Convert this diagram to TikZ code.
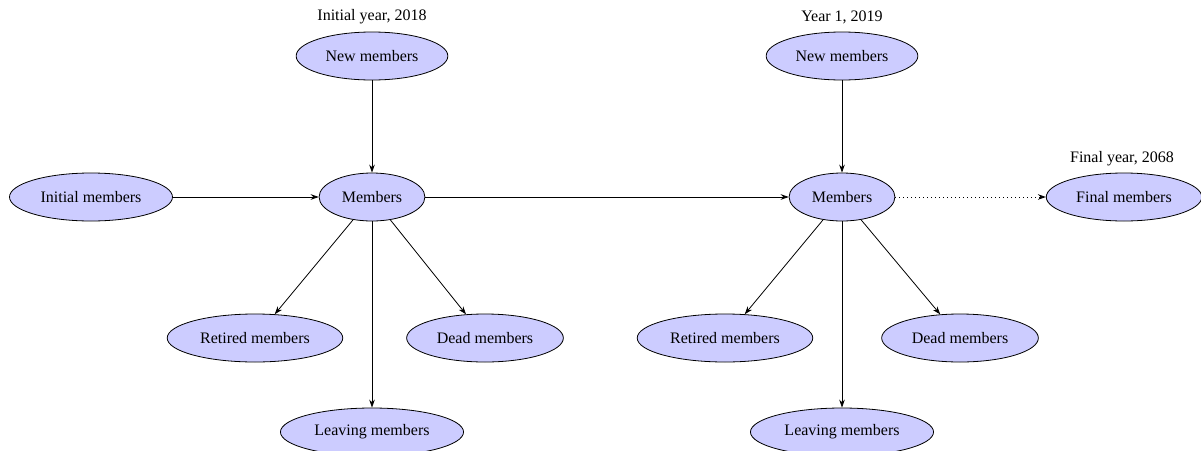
\documentclass[tikz,border=0pt]{standalone}
\usepackage{fontspec}
\setmainfont{Liberation Serif}
\usetikzlibrary{shapes.geometric,arrows.meta}
\begin{document}
\begin{tikzpicture}[x=0.625pt,y=-0.625pt,
  mem/.style={ellipse,draw,fill=blue!20,line width=0.5pt,minimum height=30pt,inner xsep=4.5pt,inner ysep=3pt,font=\fontsize{10}{12}\selectfont},
  lbl/.style={font=\fontsize{10}{12}\selectfont,inner sep=0pt},
  arr/.style={-{Stealth[length=5pt,width=3.5pt]},line width=0.5pt},
  dotarr/.style={arr,dotted}]
\useasboundingbox (0,0) rectangle (1201,450);
% year 1
\node[lbl] (t1) at (372,17) {Initial year, 2018};
\node[mem] (n1) at (372,56) {New members};
\node[mem] (m1) at (372,197) {Members};
\node[mem] (i1) at (91,197) {Initial members};
\node[mem] (r1) at (255,338) {Retired members};
\node[mem] (d1) at (485,338) {Dead members};
\node[mem] (l1) at (372,432) {Leaving members};
% year 2
\node[lbl] (t2) at (842,17) {Year 1, 2019};
\node[mem] (n2) at (842,56) {New members};
\node[mem] (m2) at (842,197) {Members};
\node[mem] (r2) at (725,338) {Retired members};
\node[mem] (d2) at (960,338) {Dead members};
\node[mem] (l2) at (842,432) {Leaving members};
% final
\node[lbl] (t3) at (1122,159) {Final year, 2068};
\node[mem] (f) at (1124,197) {Final members};
% edges
\draw[arr] (n1) -- (m1);
\draw[arr] (i1) -- (m1);
\draw[arr] (m1) -- (r1);
\draw[arr] (m1) -- (d1);
\draw[arr] (m1) -- (l1);
\draw[arr] (m1) -- (m2);
\draw[arr] (n2) -- (m2);
\draw[arr] (m2) -- (r2);
\draw[arr] (m2) -- (d2);
\draw[arr] (m2) -- (l2);
\draw[dotarr] (m2) -- (f);
\end{tikzpicture}
\end{document}
